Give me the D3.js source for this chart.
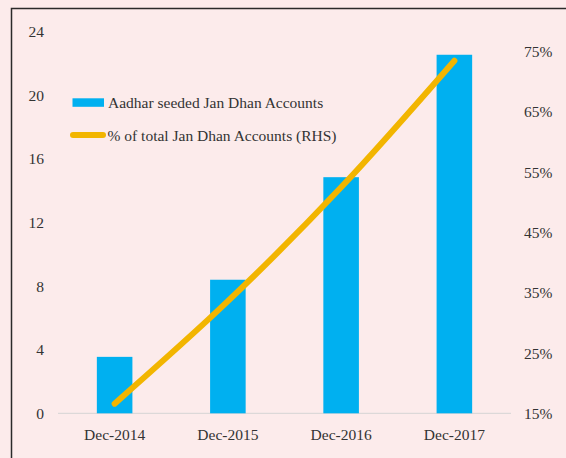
<!DOCTYPE html>
<html>
<head>
<meta charset="utf-8">
<script src="https://cdn.jsdelivr.net/npm/d3@7"></script>
<style>
  html, body { margin: 0; padding: 0; background: #fcebeb; }
  svg { display: block; }
  svg text { font-family: "Liberation Serif", "Times New Roman", serif; fill: #333; }
</style>
</head>
<body>
<svg id="chart" width="566" height="458"></svg>
<script>
// Aadhar seeded Jan Dhan accounts (crore) and share of all Jan Dhan accounts
const categories = ["Dec-2014", "Dec-2015", "Dec-2016", "Dec-2017"];
const seededAccounts = [3.55, 8.4, 14.85, 22.55];
const shareOfTotal = [16.6, 33.6, 52.5, 73.5];
const leftTicks = [0, 4, 8, 12, 16, 20, 24];
const rightTicks = [15, 25, 35, 45, 55, 65, 75];
const legendLabels = ["Aadhar seeded Jan Dhan Accounts", "% of total Jan Dhan Accounts (RHS)"];

const svg = d3.select("#chart");
const W = 566, H = 458;
const FONT = "'Liberation Serif', 'Times New Roman', serif";
const FS = 15.5;

const plot = { left: 58, right: 511, top: 31.7, bottom: 413.3 };

svg.append("rect")
  .attr("width", W).attr("height", H)
  .attr("fill", "#fcebeb");

// frame around the chart area
svg.append("rect")
  .attr("x", 11.5).attr("y", 8.5)
  .attr("width", W + 10).attr("height", H + 10)
  .attr("fill", "none")
  .attr("stroke", "#2a2a2a")
  .attr("stroke-width", 1.5);

const x = d3.scaleBand()
  .domain(categories)
  .range([plot.left, plot.right])
  .paddingInner(0.686)
  .paddingOuter(0.343);

const yLeft = d3.scaleLinear().domain([0, 24]).range([plot.bottom, plot.top]);
const yRight = d3.scaleLinear().domain([15, 75]).range([413.3, 51.7]);

// baseline
svg.append("line")
  .attr("x1", plot.left).attr("x2", plot.right)
  .attr("y1", yLeft(0)).attr("y2", yLeft(0))
  .attr("stroke", "#d4d4d4").attr("stroke-width", 1);

// bars
svg.append("g").selectAll("rect")
  .data(categories)
  .join("rect")
  .attr("x", d => x(d))
  .attr("width", x.bandwidth())
  .attr("y", (d, i) => yLeft(seededAccounts[i]))
  .attr("height", (d, i) => yLeft(0) - yLeft(seededAccounts[i]))
  .attr("fill", "#00b0f0");

// share line (smoothed)
const line = d3.line()
  .x((d, i) => x(categories[i]) + x.bandwidth() / 2)
  .y(d => yRight(d))
  .curve(d3.curveCatmullRom.alpha(0.5));

svg.append("path")
  .datum(shareOfTotal)
  .attr("d", line)
  .attr("fill", "none")
  .attr("stroke", "#f2b500")
  .attr("stroke-width", 6)
  .attr("stroke-linecap", "round")
  .attr("stroke-linejoin", "round");

function styleAxis(g) {
  g.attr("font-family", FONT);
  g.select(".domain").remove();
  g.selectAll("text")
    .attr("font-size", FS)
    .attr("fill", "#333")
    .style("font-family", FONT);
}

// left axis
const leftAxis = d3.axisLeft(yLeft).tickValues(leftTicks).tickSize(0).tickPadding(0);
svg.append("g").attr("transform", "translate(44,0)").call(leftAxis).call(styleAxis);

// right axis
const rightAxis = d3.axisRight(yRight).tickValues(rightTicks)
  .tickFormat(d => d + "%").tickSize(0).tickPadding(0);
svg.append("g").attr("transform", "translate(524,0)").call(rightAxis).call(styleAxis);

// category axis
const bottomAxis = d3.axisBottom(x).tickSize(0).tickPadding(0);
svg.append("g").attr("transform", "translate(0,429)").call(bottomAxis).call(styleAxis);

// legend
const legend = svg.append("g");
legend.append("rect")
  .attr("x", 72.5).attr("y", 98.3).attr("width", 31.5).attr("height", 8.5)
  .attr("fill", "#00b0f0");
legend.append("text")
  .attr("x", 108).attr("y", 108)
  .attr("font-size", FS)
  .style("font-family", FONT)
  .text(legendLabels[0]);
legend.append("line")
  .attr("x1", 73).attr("x2", 103).attr("y1", 135).attr("y2", 135)
  .attr("stroke", "#f2b500").attr("stroke-width", 6)
  .attr("stroke-linecap", "round");
legend.append("text")
  .attr("x", 107.5).attr("y", 140.5)
  .attr("font-size", FS)
  .style("font-family", FONT)
  .text(legendLabels[1]);
</script>
</body>
</html>
